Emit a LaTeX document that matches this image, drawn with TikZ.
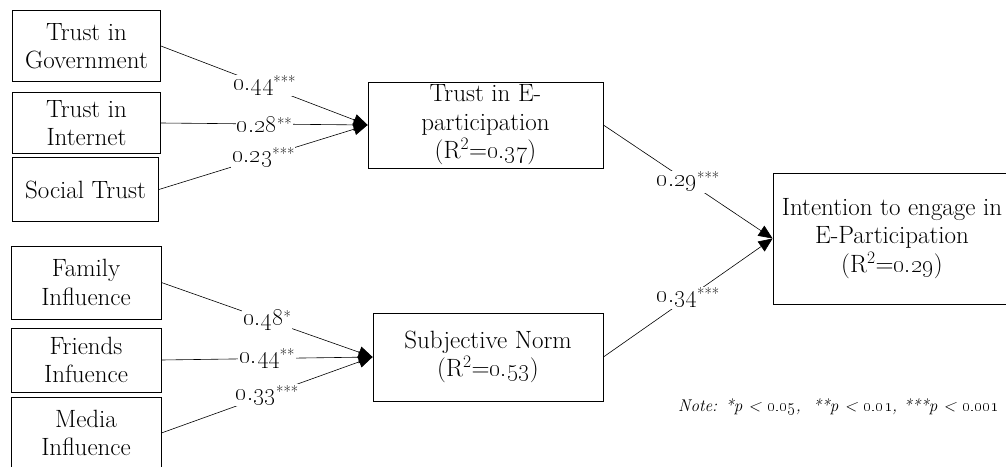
\documentclass[tikz,border=0pt]{standalone}
\usetikzlibrary{arrows.meta}
\newcommand{\osn}[1]{\oldstylenums{#1}}
\newcommand{\sig}[2]{\osn{#1}\raisebox{3pt}{\fontsize{16}{16}\selectfont #2}}
\begin{document}
\begin{tikzpicture}[x=1pt, y=-1pt,
    factor/.style={draw, line width=0.8pt, rectangle, align=center, inner sep=0pt,
        font=\fontsize{25}{28.5}\selectfont},
    link/.style={line width=0.6pt, -{Triangle[length=14pt,width=12pt]}},
    coef/.style={fill=white, inner sep=1pt, font=\fontsize{25}{26}\selectfont}]
    \clip (0,0) rectangle (1006,466);
    % antecedents of trust
    \node[factor, minimum width=148, minimum height=71] (trustgov) at (86.5,46) {Trust in\\Government};
    \node[factor, minimum width=148, minimum height=61] (trustnet) at (86.5,123) {Trust in\\Internet};
    \node[factor, minimum width=146, minimum height=64] (socialtrust) at (85.5,189.5) {Social Trust};
    % antecedents of the norm
    \node[factor, minimum width=150, minimum height=73] (family) at (86,282.5) {Family\\Influence};
    \node[factor, minimum width=150, minimum height=64] (friends) at (86,360) {Friends\\Infuence};
    \node[factor, minimum width=150, minimum height=72] (media) at (86,433) {Media\\Influence};
    % mediators and outcome
    \node[factor, minimum width=235, minimum height=86] (trustep) at (485.5,125) {Trust in E-\\participation\\(R\textsuperscript{2}=\osn{0.37})};
    \node[factor, minimum width=230, minimum height=88] (subnorm) at (488,357) {Subjective Norm\\(R\textsuperscript{2}=\osn{0.53})};
    \node[factor, minimum width=238, minimum height=131] (intention) at (892,238.5) {Intention to engage in\\E-Participation\\(R\textsuperscript{2}=\osn{0.29})};
    \draw[link] (trustgov.east) -- node[coef] {\sig{0.44}{***}} (trustep.west);
    \draw[link] (trustnet.east) -- node[coef] {\sig{0.28}{**}} (trustep.west);
    \draw[link] (socialtrust.east) -- node[coef] {\sig{0.23}{***}} (trustep.west);
    \draw[link] (family.east) -- node[coef] {\sig{0.48}{*}} (subnorm.west);
    \draw[link] (friends.east) -- node[coef] {\sig{0.44}{**}} (subnorm.west);
    \draw[link] (media.east) -- node[coef] {\sig{0.33}{***}} (subnorm.west);
    \draw[link] (trustep.east) -- node[coef] {\sig{0.29}{***}} (intention.west);
    \draw[link] (subnorm.east) -- node[coef] {\sig{0.34}{***}} (intention.west);
    \node[anchor=west, inner sep=0pt, font=\itshape\fontsize{17}{18}\selectfont] (note) at (678,407)
        {Note: *p < \osn{0.05}, \ **p < \osn{0.01}, ***p < \osn{0.001}};
\end{tikzpicture}
\end{document}
